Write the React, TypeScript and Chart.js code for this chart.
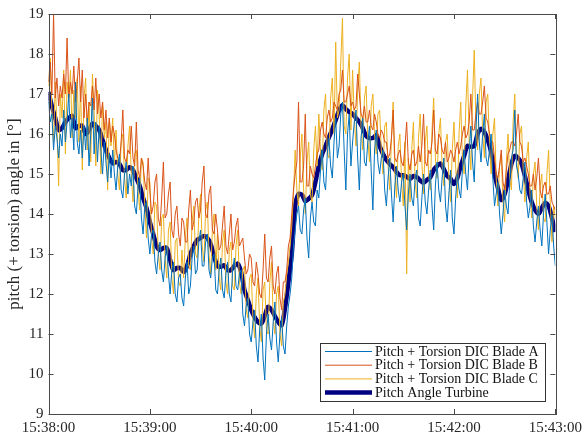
import React, { useEffect, useRef } from "react";
import { Chart, registerables } from "chart.js";

Chart.register(...registerables);

// Blade DIC signals, one sample per second from 15:38:00 to 15:43:00
const bladeA: number[] = [
  16.8, 16.3, 16.5, 15.6, 16.2, 15.9, 15.4, 16.0, 15.7, 16.6, 15.8, 16.3, 17.0, 15.9, 16.4, 15.6, 17.3, 15.8, 15.5, 16.1,
  15.4, 16.2, 15.6, 16.4, 15.2, 16.0, 16.9, 15.5, 16.3, 15.3, 16.2, 15.6, 15.0, 15.8, 15.3, 14.8, 15.5, 14.9, 15.6, 15.0,
  14.6, 15.2, 15.5, 14.6, 14.4, 15.0, 15.3, 14.5, 15.0, 14.7, 15.2, 14.2, 14.0, 14.7, 14.9, 13.9, 13.5, 14.2, 14.3, 13.4,
  13.0, 13.5, 13.6, 12.8, 12.5, 13.0, 13.3, 12.6, 12.3, 12.9, 13.2, 12.5, 12.0, 12.6, 12.8, 12.0, 11.8, 12.4, 12.5, 11.9,
  11.7, 12.4, 12.8, 12.0, 12.2, 12.9, 13.2, 12.5, 12.6, 13.3, 13.6, 12.7, 12.7, 13.3, 13.5, 12.6, 12.4, 12.9, 13.0, 12.1,
  12.0, 12.6, 12.9, 12.1, 11.9, 12.5, 12.8, 12.0, 11.8, 12.6, 12.9, 12.2, 12.1, 12.5, 12.6, 11.5, 11.2, 11.7, 11.9, 11.0,
  10.8, 11.3, 11.6, 10.7, 10.3, 11.1, 11.5, 10.4, 9.85, 11.0, 11.5, 10.9, 10.6, 11.3, 11.8, 10.8, 10.3, 11.0, 11.4, 10.7,
  10.5, 11.2, 11.7, 12.0, 12.4, 13.2, 13.6, 14.0, 14.2, 13.6, 13.5, 14.1, 14.4, 13.4, 12.9, 13.9, 14.3, 13.8, 13.7, 14.6,
  14.4, 15.1, 15.6, 14.8, 14.6, 15.5, 15.9, 15.2, 14.9, 15.8, 16.4, 15.4, 15.7, 16.5, 16.8, 15.6, 14.6, 16.0, 16.5, 15.2,
  15.8, 16.3, 16.6, 15.4, 14.6, 15.9, 16.4, 15.3, 15.2, 15.8, 16.2, 15.1, 14.1, 15.6, 16.1, 15.3, 15.0, 15.4, 15.6, 14.6,
  14.2, 14.9, 15.4, 14.5, 13.8, 14.7, 15.2, 14.6, 14.3, 14.8, 15.0, 14.2, 13.6, 14.5, 15.0, 14.4, 14.2, 14.9, 15.1, 13.9,
  13.7, 14.4, 15.0, 14.3, 14.0, 14.6, 15.1, 14.2, 13.6, 14.7, 15.3, 14.6, 14.3, 14.9, 15.4, 14.2, 13.8, 14.5, 15.1, 13.9,
  13.5, 14.4, 15.0, 14.6, 14.4, 15.1, 15.6, 15.0, 14.6, 15.5, 16.2, 15.3, 14.8, 16.1, 17.0, 15.8, 15.3, 16.0, 16.5, 15.4,
  15.2, 15.6, 16.0, 14.9, 14.2, 14.5, 14.8, 14.0, 13.5, 14.0, 14.6, 14.2, 14.0, 14.8, 15.4, 15.6, 16.6, 15.2, 15.0, 14.6,
  14.5, 14.9, 15.3, 14.3, 13.9, 14.2, 14.6, 13.7, 13.3, 13.8, 14.2, 13.6, 13.2, 14.0, 14.5, 13.8, 13.0, 13.6, 14.0, 13.2,
  12.7,
];

const bladeB: number[] = [
  17.3, 17.8, 17.0, 19.0, 16.9, 17.4, 16.7, 17.2, 16.9, 17.5, 17.0, 18.4, 16.9, 17.3, 17.0, 17.7, 16.8, 17.3, 17.9, 16.8,
  17.6, 16.4, 17.0, 16.3, 16.8, 16.7, 17.2, 16.6, 17.4, 16.5, 17.0, 16.4, 16.8, 16.1, 16.6, 15.9, 16.4, 15.8, 16.2, 16.0,
  15.6, 15.4, 15.3, 15.8, 16.6, 15.4, 15.3, 15.6, 15.5, 16.2, 15.4, 15.2, 16.3, 15.1, 14.9, 15.4, 15.2, 14.8, 14.6, 15.4,
  14.6, 14.0, 14.2, 14.8, 15.0, 13.9, 13.7, 14.4, 15.3, 13.9, 14.0, 14.5, 14.8, 13.6, 13.4, 14.0, 14.2, 13.5, 13.2, 13.9,
  13.8, 13.3, 13.3, 14.1, 14.6, 13.6, 13.8, 14.3, 14.4, 13.9, 14.1, 14.8, 15.2, 14.0, 13.9, 14.5, 14.7, 13.6, 13.5, 14.0,
  13.6, 13.1, 13.2, 13.7, 14.2, 13.2, 13.0, 13.5, 14.0, 13.1, 13.3, 13.7, 13.9, 13.2, 13.3, 13.4, 12.9, 12.5, 12.6, 13.0,
  12.9, 12.3, 12.2, 12.8, 12.5, 12.0, 11.9, 12.6, 13.5, 12.4, 12.3, 12.9, 13.2, 12.2, 12.0, 12.5, 12.7, 11.9, 11.6, 12.3,
  12.3, 12.6, 13.2, 13.4, 14.0, 14.6, 15.0, 15.3, 16.8, 14.8, 14.8, 15.2, 16.5, 14.7, 14.7, 15.2, 15.0, 14.9, 15.2, 15.5,
  15.6, 16.1, 16.3, 16.0, 15.9, 16.4, 16.6, 16.3, 16.4, 16.8, 16.7, 16.6, 17.0, 17.1, 17.6, 16.8, 16.8, 17.0, 17.2, 16.7,
  16.8, 16.6, 16.7, 17.5, 17.0, 16.5, 16.4, 16.7, 16.3, 16.3, 16.6, 16.2, 16.1, 16.5, 16.3, 16.0, 15.9, 16.1, 16.0, 15.8,
  15.8, 15.4, 15.5, 15.9, 16.6, 15.4, 15.3, 15.5, 15.6, 15.3, 15.2, 15.7, 16.3, 15.3, 15.1, 15.5, 15.6, 15.2, 15.3, 15.7,
  15.3, 15.7, 16.5, 15.3, 15.2, 15.6, 15.5, 15.8, 16.6, 15.6, 15.5, 16.0, 15.9, 15.6, 15.5, 15.8, 15.3, 15.4, 15.6, 15.5,
  15.3, 15.6, 15.8, 15.5, 15.7, 16.0, 16.2, 15.9, 16.0, 16.3, 17.0, 16.1, 16.1, 16.5, 16.8, 16.5, 16.5, 16.8, 17.2, 16.4,
  16.3, 16.0, 15.8, 15.8, 15.4, 15.0, 14.9, 15.2, 15.6, 14.8, 14.6, 15.1, 15.5, 15.6, 15.8, 15.8, 15.7, 16.0, 16.5, 15.8,
  15.7, 15.3, 15.4, 15.2, 15.0, 14.7, 14.7, 15.0, 14.6, 14.9, 15.4, 14.6, 14.4, 14.7, 14.8, 14.5, 14.5, 14.7, 14.3, 14.2,
  14.1,
];

const bladeC: number[] = [
  17.2, 17.9, 16.6, 15.8, 17.3, 16.2, 14.7, 17.0, 16.4, 17.6, 15.5, 17.3, 16.8, 17.6, 15.9, 17.1, 16.4, 17.4, 15.8, 17.2,
  15.1, 16.9, 17.4, 15.6, 16.8, 15.3, 17.5, 16.6, 15.2, 17.1, 16.5, 15.0, 16.8, 15.9, 16.3, 14.6, 16.4, 15.7, 16.4, 15.2,
  16.1, 15.0, 14.6, 15.8, 16.0, 14.9, 14.4, 15.7, 16.2, 15.0, 14.3, 15.5, 15.6, 14.6, 14.1, 15.4, 15.3, 14.2, 13.4, 14.9,
  14.8, 13.4, 13.0, 14.3, 14.2, 13.0, 12.6, 13.9, 14.0, 12.9, 12.4, 13.6, 13.8, 12.4, 12.0, 13.3, 13.4, 12.3, 12.2, 13.1,
  12.4, 13.4, 13.9, 12.7, 12.6, 13.8, 14.2, 13.0, 12.9, 14.0, 14.5, 13.2, 12.8, 14.1, 14.3, 13.0, 12.5, 13.6, 14.0, 12.6,
  13.5, 12.4, 12.1, 13.3, 13.6, 12.3, 12.0, 13.1, 13.3, 12.2, 12.1, 13.2, 13.6, 12.3, 12.0, 12.6, 12.7, 11.6, 11.4, 12.4,
  12.5, 11.4, 10.9, 12.0, 12.4, 11.2, 10.8, 12.1, 12.3, 11.1, 11.0, 12.3, 12.8, 11.4, 11.0, 12.0, 12.2, 11.0, 10.7, 11.8,
  12.0, 12.5, 12.8, 13.2, 13.7, 14.5, 15.6, 14.6, 14.2, 15.4, 16.0, 14.6, 14.0, 15.3, 15.8, 14.5, 14.3, 15.6, 16.2, 15.2,
  16.5, 15.6, 15.1, 16.6, 17.0, 15.5, 15.4, 16.9, 17.4, 16.0, 18.3, 16.4, 16.6, 17.8, 18.9, 16.2, 16.0, 17.4, 18.0, 16.1,
  17.6, 16.4, 15.7, 17.1, 17.8, 16.2, 15.6, 16.9, 17.2, 15.9, 15.3, 16.7, 17.0, 16.0, 15.5, 16.5, 16.6, 15.6, 15.0, 16.2,
  16.3, 15.2, 14.6, 15.9, 16.8, 15.0, 14.4, 15.7, 16.0, 14.8, 14.2, 15.8, 12.5, 15.4, 14.3, 15.6, 16.3, 14.8, 14.4, 15.9,
  16.5, 15.3, 14.5, 15.8, 16.2, 15.0, 14.6, 16.1, 16.9, 15.4, 14.9, 16.0, 16.4, 15.2, 14.7, 15.8, 16.0, 14.9, 14.3, 15.6,
  16.3, 15.2, 14.4, 16.0, 16.8, 15.4, 15.0, 16.7, 17.6, 15.8, 15.1, 16.9, 18.1, 16.2, 15.6, 17.0, 17.4, 16.0, 15.4, 16.8,
  17.0, 15.8, 15.0, 16.0, 16.4, 14.9, 14.2, 15.2, 15.5, 14.3, 13.8, 15.3, 16.0, 14.9, 14.6, 16.3, 17.0, 15.4, 14.9, 16.0,
  16.2, 15.1, 14.3, 15.4, 15.8, 14.5, 13.9, 15.0, 15.3, 14.2, 13.6, 14.7, 15.0, 13.9, 13.8, 15.0, 15.6, 14.3, 13.3, 14.2,
  13.9,
];

// Turbine pitch angle, seconds after 15:38:00
const turbineTimes: number[] = [
  0, 2, 4, 6, 8, 10, 12, 14, 16, 18,
  20, 22, 24, 26, 28, 30, 32, 34, 36, 38,
  40, 42, 44, 46, 48, 50, 52, 54, 56, 58,
  60, 62, 64, 66, 68, 70, 72, 74, 76, 78,
  80, 82, 84, 86, 88, 90, 92, 94, 96, 98,
  100, 102, 104, 106, 108, 110, 112, 114, 116, 118,
  120, 122, 124, 126, 128, 130, 132, 134, 136, 138,
  140, 142, 144, 146, 148, 150, 152, 154, 156, 158,
  160, 162, 164, 166, 168, 170, 172, 174, 176, 178,
  180, 182, 184, 186, 188, 190, 192, 194, 196, 198,
  200, 202, 204, 206, 208, 210, 212, 214, 216, 218,
  220, 222, 224, 226, 228, 230, 232, 234, 236, 238,
  240, 242, 244, 246, 248, 250, 252, 254, 256, 258,
  260, 262, 264, 266, 268, 270, 272, 274, 276, 278,
  280, 282, 284, 286, 288, 290, 292, 294, 296, 298, 300,
];

const turbine: number[] = [
  17.05, 16.7, 16.4, 16.1, 16.15, 16.3, 16.4, 16.45, 16.15, 16.2,
  16.2, 16.0, 16.1, 16.26, 16.2, 16.1, 15.85, 15.6, 15.4, 15.27,
  15.3, 15.25, 15.1, 15.1, 15.17, 15.1, 14.9, 14.7, 14.4, 14.15,
  13.8, 13.5, 13.2, 13.1, 13.15, 13.15, 12.85, 12.6, 12.65, 12.65,
  12.55, 12.7, 13.0, 13.2, 13.35, 13.4, 13.45, 13.4, 13.25, 12.95,
  12.7, 12.68, 12.72, 12.6, 12.6, 12.7, 12.76, 12.55, 12.1, 11.85,
  11.6, 11.42, 11.3, 11.26, 11.45, 11.68, 11.6, 11.45, 11.3, 11.22,
  11.65, 12.3, 13.0, 14.2, 14.5, 14.48, 14.32, 14.38, 14.47, 14.8,
  15.2, 15.5, 15.7, 15.92, 16.12, 16.35, 16.59, 16.72, 16.62, 16.55,
  16.5, 16.4, 16.3, 16.15, 15.95, 15.9, 15.9, 15.97, 15.7, 15.5,
  15.35, 15.25, 15.17, 15.05, 14.97, 14.97, 14.93, 14.88, 14.95, 14.92,
  14.84, 14.78, 14.85, 14.92, 15.1, 15.2, 15.26, 15.12, 14.95, 14.88,
  14.75, 14.9, 15.2, 15.45, 15.7, 15.68, 15.7, 16.0, 16.13, 16.05,
  15.85, 15.55, 15.0, 14.65, 14.35, 14.5, 14.85, 15.25, 15.45, 15.4,
  15.26, 14.95, 14.6, 14.3, 14.1, 14.0, 14.15, 14.28, 14.2, 13.9, 13.55,
];

const xTickLabels: string[] = ["15:38:00", "15:39:00", "15:40:00", "15:41:00", "15:42:00", "15:43:00"];
const seriesLabels: string[] = [
  "Pitch + Torsion DIC Blade A",
  "Pitch + Torsion DIC Blade B",
  "Pitch + Torsion DIC Blade C",
  "Pitch Angle Turbine",
];
const yTitle = "pitch (+ torsion) angle in [°]";

const FONT = "'Liberation Serif', 'Times New Roman', serif";
const AXIS_COLOR = "#4a4a4a";

const framePlugin = {
  id: "matlabFrame",
  afterDatasetsDraw(chart: any) {
    const { ctx, chartArea } = chart;
    const { left, right, top, bottom } = chartArea;
    const xs = chart.scales.x;
    const ys = chart.scales.y;
    ctx.save();
    ctx.strokeStyle = AXIS_COLOR;
    ctx.lineWidth = 1;
    ctx.strokeRect(Math.round(left) + 0.5, Math.round(top) + 0.5, Math.round(right - left), Math.round(bottom - top));
    const tl = 5;
    ctx.beginPath();
    xs.ticks.forEach((t: any) => {
      const px = Math.round(xs.getPixelForValue(t.value)) + 0.5;
      ctx.moveTo(px, bottom);
      ctx.lineTo(px, bottom - tl);
      ctx.moveTo(px, top);
      ctx.lineTo(px, top + tl);
    });
    ys.ticks.forEach((t: any) => {
      const py = Math.round(ys.getPixelForValue(t.value)) + 0.5;
      ctx.moveTo(left, py);
      ctx.lineTo(left + tl, py);
      ctx.moveTo(right, py);
      ctx.lineTo(right - tl, py);
    });
    ctx.stroke();

    // legend
    const lx = 320.5, ly = 343.5, lw = 225, lh = 58;
    ctx.fillStyle = "#ffffff";
    ctx.fillRect(lx, ly, lw, lh);
    ctx.strokeStyle = "#333333";
    ctx.lineWidth = 1;
    ctx.strokeRect(lx, ly, lw, lh);
    ctx.font = `14px ${FONT}`;
    ctx.textBaseline = "middle";
    ctx.textAlign = "left";
    chart.data.datasets.forEach((ds: any, i: number) => {
      const cy = 351.5 + i * 13.7;
      ctx.strokeStyle = ds.borderColor;
      ctx.lineWidth = ds.borderWidth;
      ctx.beginPath();
      ctx.moveTo(325, cy);
      ctx.lineTo(372, cy);
      ctx.stroke();
      ctx.fillStyle = "#111111";
      ctx.fillText(ds.label, 375, cy + 0.5);
    });
    ctx.restore();
  },
};

export default function App() {
  const ref = useRef<HTMLCanvasElement>(null);
  useEffect(() => {
    document.body.style.margin = "0";
    const perSecond = (vals: number[]) => vals.map((v, i) => ({ x: i, y: v }));
    const chart = new Chart(ref.current as HTMLCanvasElement, {
      type: "line",
      data: {
        datasets: [
          { label: seriesLabels[0], data: perSecond(bladeA), borderColor: "#0072BD", borderWidth: 1, pointRadius: 0, tension: 0 },
          { label: seriesLabels[1], data: perSecond(bladeB), borderColor: "#D95319", borderWidth: 1, pointRadius: 0, tension: 0 },
          { label: seriesLabels[2], data: perSecond(bladeC), borderColor: "#EDB120", borderWidth: 1, pointRadius: 0, tension: 0 },
          {
            label: seriesLabels[3],
            data: turbineTimes.map((t, i) => ({ x: t, y: turbine[i] })),
            borderColor: "#000080",
            borderWidth: 4.5,
            pointRadius: 0,
            tension: 0.3,
          },
        ],
      },
      options: {
        animation: false,
        responsive: false,
        devicePixelRatio: 1,
        layout: { padding: { left: 0, top: 13.5, right: 30, bottom: 0 } },
        plugins: { legend: { display: false }, tooltip: { enabled: false } },
        scales: {
          x: {
            type: "linear",
            min: 0,
            max: 300,
            grid: { display: false, drawTicks: false, tickLength: 0 },
            border: { display: false },
            ticks: {
              stepSize: 60,
              autoSkip: false,
              maxRotation: 0,
              padding: 5,
              color: "#262626",
              font: { family: FONT, size: 15 },
              callback: (v: any) => xTickLabels[Math.round(Number(v) / 60)] ?? "",
            },
            afterFit: (s: any) => { s.height = 23; },
          },
          y: {
            min: 9,
            max: 19,
            grid: { display: false, drawTicks: false, tickLength: 0 },
            border: { display: false },
            ticks: {
              stepSize: 1,
              padding: 5,
              color: "#262626",
              font: { family: FONT, size: 15 },
            },
            title: {
              display: true,
              text: yTitle,
              color: "#262626",
              font: { family: FONT, size: 17 },
              padding: { top: 4, bottom: 0 },
            },
            afterFit: (s: any) => { s.width = 48.5; },
          },
        },
      },
      plugins: [framePlugin],
    });
    return () => chart.destroy();
  }, []);
  return (
    <div style={{ width: 587, height: 437, background: "#fff" }}>
      <canvas ref={ref} width={587} height={437} style={{ width: 587, height: 437, display: "block" }} />
    </div>
  );
}
